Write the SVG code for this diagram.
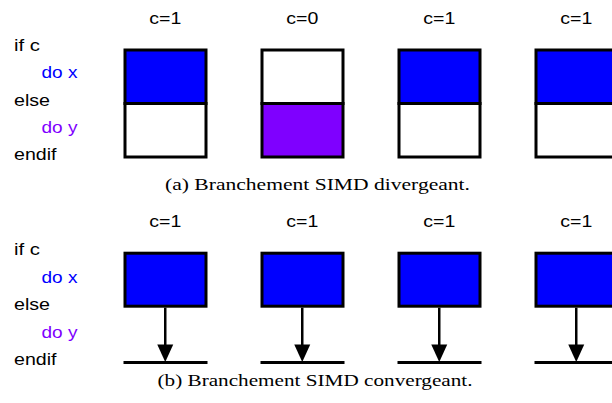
<svg xmlns="http://www.w3.org/2000/svg" width="612" height="403" viewBox="0 0 612 403">
<style>
.t{font-family:"Liberation Sans",Arial,sans-serif;font-size:17px;fill:#000}
.bx{fill:#0000ff}
.py{fill:#7f00ff}
.lbl{font-family:"Liberation Sans",Arial,sans-serif;font-size:17px;fill:#000;text-anchor:middle}
.cap{font-family:"Liberation Serif","Times New Roman",serif;font-size:17px;fill:#000}
.box{stroke:#000;stroke-width:3}
.ln{stroke:#000;stroke-width:3;fill:none}
</style>
<defs>
<marker id="ah" markerWidth="16" markerHeight="18" refX="8" refY="17.5" orient="auto-start-reverse" markerUnits="userSpaceOnUse" viewBox="0 0 16 18">
<path d="M0,0 L16,0 L8,17.5 Z" fill="#000"/>
</marker>
</defs>
<g id="code-a">
<text class="t" x="14" y="51" textLength="26" lengthAdjust="spacingAndGlyphs">if c</text>
<text class="t bx" x="41.5" y="78" textLength="36" lengthAdjust="spacingAndGlyphs">do x</text>
<text class="t" x="14" y="105.5" textLength="36" lengthAdjust="spacingAndGlyphs">else</text>
<text class="t py" x="41.5" y="132.5" textLength="36" lengthAdjust="spacingAndGlyphs">do y</text>
<text class="t" x="14" y="159.5" textLength="42.5" lengthAdjust="spacingAndGlyphs">endif</text>
</g>
<g id="lane-a1">
<text class="lbl" x="165.25" y="24" textLength="32" lengthAdjust="spacingAndGlyphs">c=1</text>
<rect class="box bx" x="125" y="50" width="81" height="53.5"/>
<rect class="box" x="125" y="103.5" width="81" height="53.5" fill="#fff"/>
</g>
<g id="lane-a2">
<text class="lbl" x="302.25" y="24" textLength="32" lengthAdjust="spacingAndGlyphs">c=0</text>
<rect class="box" x="262" y="50" width="81" height="53.5" fill="#fff"/>
<rect class="box py" x="262" y="103.5" width="81" height="53.5"/>
</g>
<g id="lane-a3">
<text class="lbl" x="439.25" y="24" textLength="32" lengthAdjust="spacingAndGlyphs">c=1</text>
<rect class="box bx" x="399" y="50" width="81" height="53.5"/>
<rect class="box" x="399" y="103.5" width="81" height="53.5" fill="#fff"/>
</g>
<g id="lane-a4">
<text class="lbl" x="576.25" y="24" textLength="32" lengthAdjust="spacingAndGlyphs">c=1</text>
<rect class="box bx" x="536" y="50" width="81" height="53.5"/>
<rect class="box" x="536" y="103.5" width="81" height="53.5" fill="#fff"/>
</g>
<text id="caption-a" class="cap" x="165" y="190" textLength="305" lengthAdjust="spacingAndGlyphs">(a)  Branchement SIMD divergeant.</text>

<g id="code-b">
<text class="t" x="14" y="255" textLength="26" lengthAdjust="spacingAndGlyphs">if c</text>
<text class="t bx" x="41.5" y="282.5" textLength="36" lengthAdjust="spacingAndGlyphs">do x</text>
<text class="t" x="14" y="310" textLength="36" lengthAdjust="spacingAndGlyphs">else</text>
<text class="t py" x="41.5" y="337.5" textLength="36" lengthAdjust="spacingAndGlyphs">do y</text>
<text class="t" x="14" y="365" textLength="42.5" lengthAdjust="spacingAndGlyphs">endif</text>
</g>
<g id="lane-b1">
<text class="lbl" x="165.25" y="227" textLength="32" lengthAdjust="spacingAndGlyphs">c=1</text>
<rect class="box bx" x="125" y="253.2" width="81" height="53"/>
<line class="ln" x1="123.5" y1="362.5" x2="207.5" y2="362.5"/>
</g>
<g id="lane-b2">
<text class="lbl" x="302.25" y="227" textLength="32" lengthAdjust="spacingAndGlyphs">c=1</text>
<rect class="box bx" x="262" y="253.2" width="81" height="53"/>
<line class="ln" x1="260.5" y1="362.5" x2="344.5" y2="362.5"/>
</g>
<g id="lane-b3">
<text class="lbl" x="439.25" y="227" textLength="32" lengthAdjust="spacingAndGlyphs">c=1</text>
<rect class="box bx" x="399" y="253.2" width="81" height="53"/>
<line class="ln" x1="397.5" y1="362.5" x2="481.5" y2="362.5"/>
</g>
<g id="lane-b4">
<text class="lbl" x="576.25" y="227" textLength="32" lengthAdjust="spacingAndGlyphs">c=1</text>
<rect class="box bx" x="536" y="253.2" width="81" height="53"/>
<line class="ln" x1="534.5" y1="362.5" x2="618.5" y2="362.5"/>
</g>
<g id="connectors" stroke="#000" stroke-width="2.5" fill="none">
<line x1="165.25" y1="307.7" x2="165.25" y2="346" />
<path d="M157.25,344.5 L173.25,344.5 L165.25,362 Z" fill="#000" stroke="none"/>
<line x1="302.25" y1="307.7" x2="302.25" y2="346" />
<path d="M294.25,344.5 L310.25,344.5 L302.25,362 Z" fill="#000" stroke="none"/>
<line x1="439.25" y1="307.7" x2="439.25" y2="346" />
<path d="M431.25,344.5 L447.25,344.5 L439.25,362 Z" fill="#000" stroke="none"/>
<line x1="576.25" y1="307.7" x2="576.25" y2="346" />
<path d="M568.25,344.5 L584.25,344.5 L576.25,362 Z" fill="#000" stroke="none"/>
</g>
<text id="caption-b" class="cap" x="157.5" y="386" textLength="315" lengthAdjust="spacingAndGlyphs">(b)  Branchement SIMD convergeant.</text>
</svg>
